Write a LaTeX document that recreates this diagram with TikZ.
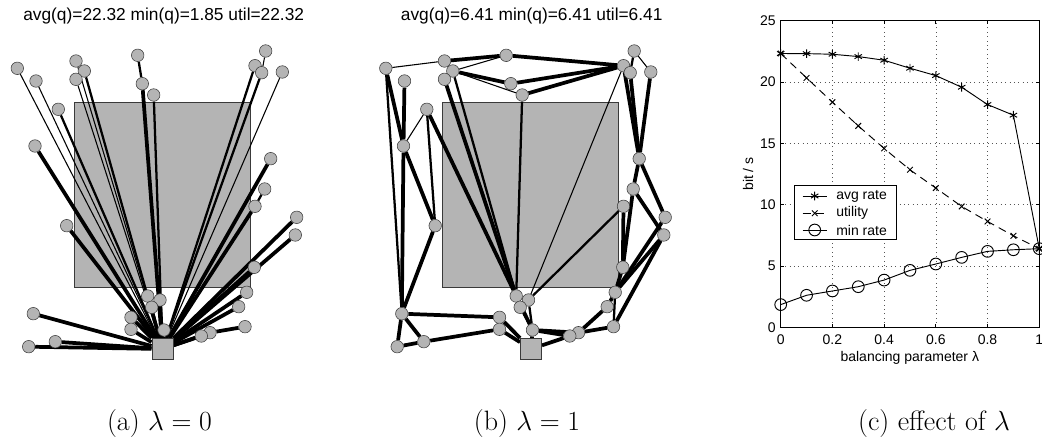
\documentclass[tikz,border=0pt]{standalone}
\usepackage{fontspec}
\usepackage{amsmath}
\usepackage{tikz}
\usetikzlibrary{plotmarks,backgrounds}
\newfontfamily\plotsans{Liberation Sans}
\definecolor{fieldgray}{HTML}{B4B4B4}
\definecolor{rimgray}{HTML}{3A3A3A}
\definecolor{gridgray}{HTML}{555555}

% sensor positions in pixels (y grows downwards), shared by both panels
\def\fieldnodes{1/17.3/68.3,2/36/81,3/76/61,4/84.3/71,5/76/79.3,6/58.3/109.3,
  7/137.7/55.3,8/142.3/83.7,9/153.7/95,10/265.7/51,11/255/65.7,12/261.7/72.7,
  13/282.3/72,14/35/146,15/270.7/158.7,16/264.7/189,17/255/206.3,18/66.7/225.7,
  19/296.7/217.3,20/295.3/235,21/254.3/267.3,22/246.7/292.3,23/238.7/306.7,
  24/245/326.7,25/210/332.7,26/201.3/336,27/33.3/313.7,28/28.7/346.7,
  29/55.3/341.7,30/131/317.3,31/131/329.3,32/147.7/296,33/160/300,
  34/151.7/307.3,35/164/330}

\begin{document}
\begin{tikzpicture}[
    x=0.75pt,
    y=-0.75pt,
    sensor/.style={circle, draw=rimgray, line width=0.4pt, fill=fieldgray, inner sep=0pt, minimum size=9.4pt},
    sinkbox/.style={rectangle, draw=rimgray, line width=0.5pt, fill=fieldgray, inner sep=0pt, minimum size=16pt},
    obstacle/.style={draw=rimgray, line width=0.5pt, fill=fieldgray},
    flowlo/.style={line width=0.8pt},
    flowmid/.style={line width=1.7pt},
    flowhi/.style={line width=2.8pt},
    headline/.style={font=\fontsize{13}{15}\plotsans, anchor=base, inner sep=0pt},
    caption/.style={font=\fontsize{21}{24}\selectfont, anchor=base, inner sep=0pt},
    axtext/.style={font=\fontsize{10.5}{12}\plotsans, inner sep=0pt},
    gridline/.style={line width=0.4pt, draw=gridgray, dash pattern=on 0.5pt off 2.8pt},
    axisline/.style={line width=0.6pt},
    rateline/.style={line width=0.7pt}
  ]
  \useasboundingbox (0,0) rectangle (1042,441);

  % (a) lambda = 0
  \begin{scope}[name prefix=a-]
    \foreach \i/\px/\py in \fieldnodes {\node[sensor] (n\i) at (\px,\py) {};}
    \node[sinkbox] (sink) at (162.5,349) {};
    \begin{pgfonlayer}{background}
      \fill[obstacle] (74,102) rectangle (250,287);
      \foreach \u/\v/\w in {n1/sink/flowlo, n2/sink/flowlo, n3/sink/flowlo, n4/sink/flowmid,
          n5/sink/flowlo, n6/sink/flowmid, n7/n8/flowmid, n8/sink/flowhi, n9/sink/flowmid,
          n10/n12/flowlo, n11/sink/flowmid, n12/sink/flowmid, n13/sink/flowlo, n14/sink/flowhi,
          n15/sink/flowhi, n16/n17/flowmid, n17/sink/flowhi, n18/sink/flowhi, n19/sink/flowhi,
          n20/sink/flowhi, n21/sink/flowhi, n22/sink/flowhi, n23/sink/flowhi, n24/n25/flowhi,
          n25/sink/flowhi, n26/sink/flowhi, n27/sink/flowhi, n28/sink/flowhi, n29/sink/flowhi,
          n30/sink/flowhi, n31/sink/flowhi, n32/sink/flowhi, n33/sink/flowhi, n34/sink/flowmid,
          n35/sink/flowhi}
        \draw[\w] (\u) -- (\v);
    \end{pgfonlayer}
    \node[headline] (titlea) at (163.7,20.5) {avg(q)=22.32 min(q)=1.85 util=22.32};
    \node[caption] (capa) at (159.5,431) {(a)~$\lambda=0$};
  \end{scope}

  % (b) lambda = 1
  \begin{scope}[shift={(368.5,0)}, name prefix=b-]
    \foreach \i/\px/\py in \fieldnodes {\node[sensor] (n\i) at (\px,\py) {};}
    \node[sinkbox] (sink) at (162.5,349) {};
    \begin{pgfonlayer}{background}
      \fill[obstacle] (74,102) rectangle (250,287);
      \foreach \u/\v/\w in {n1/n3/flowlo, n3/n7/flowhi, n4/n7/flowlo, n7/n11/flowhi,
          n4/n8/flowhi, n4/n9/flowlo, n8/n11/flowhi, n9/n11/flowhi, n9/n32/flowmid,
          n4/n32/flowmid, n5/n32/flowhi, n5/n34/flowmid, n10/n12/flowmid, n10/n13/flowlo,
          n11/n15/flowhi, n12/n15/flowhi, n13/n15/flowhi, n11/n33/flowlo,
          n1/n14/flowhi, n1/n27/flowmid, n2/n14/flowhi, n6/n14/flowlo, n6/n18/flowmid,
          n6/n32/flowhi, n14/n18/flowhi, n14/n27/flowhi, n18/n27/flowhi,
          n27/n28/flowhi, n27/n29/flowhi, n28/n29/flowhi, n27/n30/flowhi, n29/n31/flowhi,
          n30/sink/flowhi, n31/sink/flowhi, n32/n35/flowhi, n34/n35/flowmid, n33/n35/flowmid,
          n35/sink/flowhi, n15/n16/flowhi, n15/n19/flowhi, n16/n21/flowhi, n16/n20/flowhi,
          n17/n21/flowhi, n17/n33/flowmid, n19/n22/flowhi, n20/n22/flowhi, n20/n24/flowhi,
          n21/n22/flowhi, n22/n23/flowhi, n22/n24/flowmid, n23/n25/flowhi, n24/n25/flowhi,
          n25/n35/flowhi, n26/n35/flowhi, n26/sink/flowhi}
        \draw[\w] (\u) -- (\v);
    \end{pgfonlayer}
    \node[headline] (titleb) at (163.2,20.5) {avg(q)=6.41 min(q)=6.41 util=6.41};
    \node[caption] (capb) at (158.5,431) {(b)~$\lambda=1$};
  \end{scope}

  % (c) effect of lambda
  \begin{scope}[shift={(780.7,327.3)}, x=193.9pt, y=9.2pt]
    \foreach \gx in {0.2,0.4,0.6,0.8} \draw[gridline] (\gx,0) -- (\gx,25);
    \foreach \gy in {5,10,15,20} \draw[gridline] (0,\gy) -- (1,\gy);
    \draw[axisline] (0,0) rectangle (1,25);
    \foreach \gx/\lab [count=\k] in {0/0,0.2/0.2,0.4/0.4,0.6/0.6,0.8/0.8,1/1} {
      \draw[axisline] (\gx,0) -- (\gx,0.28) (\gx,25) -- (\gx,24.72);
      \node[axtext, anchor=base, yshift=-12.6pt] (xtick\k) at (\gx,0) {\lab};
    }
    \foreach \gy [count=\k] in {0,5,10,15,20,25} {
      \draw[axisline] (0,\gy) -- (0.013,\gy) (1,\gy) -- (0.987,\gy);
      \node[axtext, anchor=east, xshift=-3.5pt] (ytick\k) at (0,\gy) {\gy};
    }
    \draw[rateline] plot[mark=asterisk, mark size=3.2pt] coordinates {(0,22.32) (0.1,22.31) (0.2,22.26)
      (0.3,22.07) (0.4,21.77) (0.5,21.12) (0.6,20.52) (0.7,19.57) (0.8,18.16) (0.9,17.29) (1,6.41)};
    \draw[rateline, dash pattern=on 6pt off 4pt] plot[mark=x, mark size=3pt, mark options={solid}]
      coordinates {(0,22.32) (0.1,20.33) (0.2,18.35) (0.3,16.42) (0.4,14.58) (0.5,12.84)
      (0.6,11.35) (0.7,9.85) (0.8,8.63) (0.9,7.46) (1,6.41)};
    \draw[rateline] plot[mark=o, mark size=4.4pt] coordinates {(0,1.85) (0.1,2.61) (0.2,2.96)
      (0.3,3.31) (0.4,3.85) (0.5,4.64) (0.6,5.16) (0.7,5.70) (0.8,6.19) (0.9,6.32) (1,6.41)};
  \end{scope}
  \node[axtext, rotate=90] (ylab) at (748,174) {bit / s};
  \node[axtext] (xlab) at (909.8,357.5) {balancing parameter λ};

  % legend
  \node[draw, axisline, fill=white, minimum width=76.8pt, minimum height=40.7pt, inner sep=0pt] (legend) at (845.5,212.2) {};
  \draw[rateline] (802.7,196) -- (826.7,196);
  \draw[rateline] plot[mark=asterisk, mark size=3.2pt] coordinates {(814.7,196)};
  \node[axtext, anchor=west] (legavg) at (836,196) {avg rate};
  \draw[rateline, dash pattern=on 6pt off 4pt] (802.7,213.3) -- (826.7,213.3);
  \draw[rateline] plot[mark=x, mark size=3pt] coordinates {(814.7,213.3)};
  \node[axtext, anchor=west] (legutil) at (836,213.3) {utility};
  \draw[rateline] (802.7,230) -- (826.7,230);
  \draw[rateline] plot[mark=o, mark size=4.4pt] coordinates {(814.7,230)};
  \node[axtext, anchor=west] (legmin) at (836,230) {min rate};

  \node[caption] (capc) at (934,431) {(c) effect of $\lambda$};
\end{tikzpicture}
\end{document}
